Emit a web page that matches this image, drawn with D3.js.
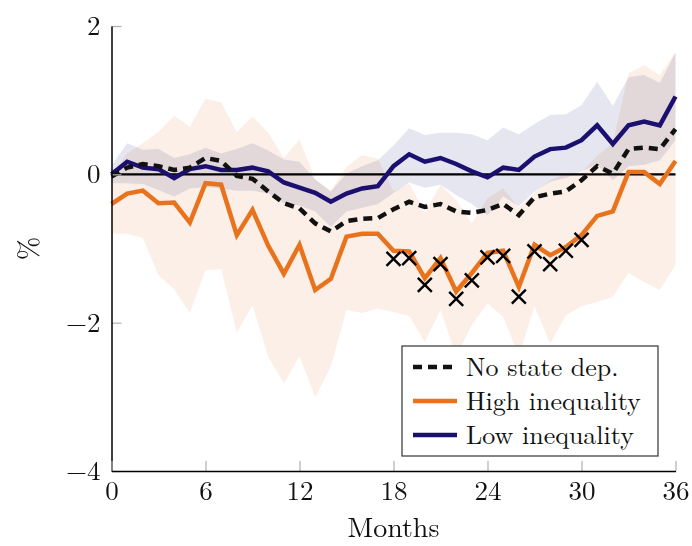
<!DOCTYPE html>
<html>
<head>
<meta charset="utf-8">
<script src="https://cdn.jsdelivr.net/npm/d3@7"></script>
<style>
  html, body { margin: 0; padding: 0; background: #fff; }
  svg { display: block; }
  text { font-family: "Latin Modern Roman", "CMU Serif", "Liberation Serif", "DejaVu Serif", serif; fill: #111; }
</style>
</head>
<body>
<svg id="chart" width="692" height="546"></svg>
<script>
// Impulse responses (percent) over a 36-month horizon
const months = d3.range(0, 37);

const noStateDep = [-0.03, 0.09, 0.14, 0.11, 0.06, 0.09, 0.22, 0.18, -0.02, -0.06,
  -0.23, -0.39, -0.46, -0.66, -0.77, -0.63, -0.60, -0.59, -0.47, -0.37,
  -0.44, -0.40, -0.50, -0.52, -0.48, -0.40, -0.55, -0.31, -0.26, -0.23,
  -0.08, 0.11, 0.01, 0.34, 0.36, 0.34, 0.61];

const highIneq = [-0.40, -0.26, -0.22, -0.39, -0.38, -0.65, -0.12, -0.14, -0.82, -0.48,
  -0.96, -1.34, -0.95, -1.56, -1.41, -0.84, -0.80, -0.80, -1.03, -1.04,
  -1.40, -1.13, -1.58, -1.33, -1.06, -1.03, -1.52, -0.95, -1.09, -0.98,
  -0.82, -0.56, -0.50, 0.03, 0.03, -0.13, 0.18];

const highUpper = [-0.02, 0.28, 0.42, 0.57, 0.79, 0.64, 1.02, 0.97, 0.57, 0.78,
  0.56, 0.22, 0.47, -0.07, -0.22, 0.10, 0.26, 0.21, -0.23, -0.12,
  -0.52, -0.14, -0.35, -0.66, -0.32, -0.19, -0.45, -0.24, -0.08, 0.01,
  0.02, 0.25, 0.42, 1.36, 1.47, 1.34, 1.65];

const highLower = [-0.80, -0.80, -0.86, -1.36, -1.55, -1.87, -1.29, -1.28, -2.13, -1.77,
  -2.46, -2.82, -2.45, -3.01, -2.59, -1.83, -1.87, -1.81, -1.86, -1.91,
  -2.26, -1.83, -2.45, -2.03, -1.74, -1.92, -2.45, -1.78, -2.28, -1.90,
  -1.78, -1.72, -1.65, -1.33, -1.45, -1.56, -1.22];

const lowIneq = [0.00, 0.17, 0.09, 0.07, -0.05, 0.07, 0.11, 0.06, 0.06, 0.09,
  0.04, -0.11, -0.18, -0.25, -0.37, -0.26, -0.19, -0.16, 0.11, 0.27,
  0.17, 0.22, 0.14, 0.04, -0.04, 0.09, 0.06, 0.24, 0.34, 0.36,
  0.46, 0.66, 0.41, 0.66, 0.71, 0.66, 1.05];

const lowUpper = [0.12, 0.42, 0.33, 0.34, 0.22, 0.27, 0.36, 0.28, 0.34, 0.42,
  0.32, 0.20, 0.17, -0.07, -0.23, 0.01, 0.11, 0.19, 0.39, 0.62,
  0.53, 0.56, 0.56, 0.54, 0.46, 0.63, 0.54, 0.68, 0.80, 0.81,
  0.93, 1.25, 0.92, 1.31, 1.34, 1.23, 1.64];

const lowLower = [-0.12, -0.12, -0.13, -0.21, -0.30, -0.19, -0.17, -0.19, -0.22, -0.22,
  -0.26, -0.39, -0.42, -0.50, -0.71, -0.50, -0.45, -0.40, -0.25, -0.11,
  -0.18, -0.14, -0.28, -0.40, -0.55, -0.30, -0.43, -0.23, -0.10, -0.05,
  0.04, 0.13, -0.08, 0.11, 0.13, 0.19, 0.46];

// Months where the high/low difference is flagged, with marker heights
const signifMonths = [18, 19, 20, 21, 22, 23, 24, 25, 26, 27, 28, 29, 30];
const signifValues = [-1.14, -1.13, -1.49, -1.21, -1.68, -1.43, -1.12, -1.10, -1.65, -1.04, -1.21, -1.03, -0.885];

const xTicks = [0, 6, 12, 18, 24, 30, 36];
const yTicks = [-4, -2, 0, 2];

const seriesNames = ["No state dep.", "High inequality", "Low inequality"];
const orange = "#e8731c";
const navy = "#1b1070";
const black = "#111111";
const orangeBand = "#fcefe7";
const navyBand = "#e5e6f0";

const W = 692, H = 546;
const margin = { top: 26, right: 16.5, bottom: 75, left: 111.5 };
const innerW = W - margin.left - margin.right;
const innerH = H - margin.top - margin.bottom;

const svg = d3.select("#chart");
const g = svg.append("g").attr("transform", `translate(${margin.left},${margin.top})`);

const x = d3.scaleLinear().domain([0, 36]).range([0, innerW]);
const y = d3.scaleLinear().domain([-4, 2]).range([innerH, 0]);

const band = (up, lo) => d3.area()
  .x((d, i) => x(months[i]))
  .y0((d, i) => y(lo[i]))
  .y1((d, i) => y(up[i]));

// Confidence bands; multiply blending darkens where they overlap
g.append("path").datum(months)
  .attr("d", band(highUpper, highLower))
  .attr("fill", orangeBand);
g.append("path").datum(months)
  .attr("d", band(lowUpper, lowLower))
  .attr("fill", navyBand).style("mix-blend-mode", "multiply");

// Zero reference line
g.append("line")
  .attr("x1", x(0)).attr("x2", x(36))
  .attr("y1", y(0)).attr("y2", y(0))
  .attr("stroke", "#000").attr("stroke-width", 2.4);

const line = vals => d3.line()
  .x((d, i) => x(months[i]))
  .y((d, i) => y(vals[i]));

g.append("path").datum(months).attr("d", line(highIneq))
  .attr("fill", "none").attr("stroke", orange).attr("stroke-width", 4.5)
  .attr("stroke-linejoin", "miter");
g.append("path").datum(months).attr("d", line(lowIneq))
  .attr("fill", "none").attr("stroke", navy).attr("stroke-width", 4.5)
  .attr("stroke-linejoin", "miter");
g.append("path").datum(months).attr("d", line(noStateDep))
  .attr("fill", "none").attr("stroke", black).attr("stroke-width", 4.5)
  .attr("stroke-dasharray", "9,6");

// Cross markers
const cs = 7;
g.append("g").selectAll("path")
  .data(signifMonths.map((m, i) => [m, signifValues[i]]))
  .join("path")
  .attr("d", d => {
    const cx = x(d[0]), cy = y(d[1]);
    return `M${cx - cs},${cy - cs}L${cx + cs},${cy + cs}M${cx - cs},${cy + cs}L${cx + cs},${cy - cs}`;
  })
  .attr("stroke", "#000").attr("stroke-width", 2.4).attr("fill", "none");

// Axes
const fmt = d3.format("d");
const yAxis = g.append("g")
  .call(d3.axisLeft(y).tickValues(yTicks).tickFormat(fmt).tickSizeInner(-10).tickSizeOuter(0).tickPadding(11));
const xAxis = g.append("g").attr("transform", `translate(0,${innerH})`)
  .call(d3.axisBottom(x).tickValues(xTicks).tickFormat(fmt).tickSizeInner(-10).tickSizeOuter(0).tickPadding(10));

[xAxis, yAxis].forEach(a => {
  a.select(".domain").attr("stroke", "#000").attr("stroke-width", 1.5);
  a.selectAll(".tick line").attr("stroke", "#b0b0b0").attr("stroke-width", 1.2);
  a.selectAll(".tick text").attr("font-size", 27).attr("fill", "#111")
    .style("font-family", '"Latin Modern Roman", "CMU Serif", "Liberation Serif", serif');
});
xAxis.select(".domain").raise();
yAxis.select(".domain").raise();

// Axis titles
svg.append("text")
  .attr("x", margin.left + innerW / 2).attr("y", 537)
  .attr("text-anchor", "middle").attr("font-size", 28).attr("fill", "#444")
  .text("Months");
svg.append("text")
  .attr("transform", `translate(38,${margin.top + innerH / 2}) rotate(-90)`)
  .attr("text-anchor", "middle").attr("font-size", 28).attr("fill", "#444")
  .text("%");

// Legend
const legend = svg.append("g").attr("transform", "translate(402,346)");
legend.append("rect")
  .attr("width", 256).attr("height", 110)
  .attr("fill", "#fff").attr("stroke", "#333").attr("stroke-width", 1.2);
const legendStyles = [
  { color: black, dash: "9,6" },
  { color: orange, dash: null },
  { color: navy, dash: null }
];
seriesNames.forEach((name, i) => {
  const ly = 21 + i * 34;
  legend.append("line")
    .attr("x1", 11).attr("x2", 55).attr("y1", ly).attr("y2", ly)
    .attr("stroke", legendStyles[i].color).attr("stroke-width", 4.5)
    .attr("stroke-dasharray", legendStyles[i].dash);
  legend.append("text")
    .attr("x", 64).attr("y", ly).attr("dy", "0.35em")
    .attr("font-size", 26).attr("fill", "#111")
    .text(name);
});
</script>
</body>
</html>
